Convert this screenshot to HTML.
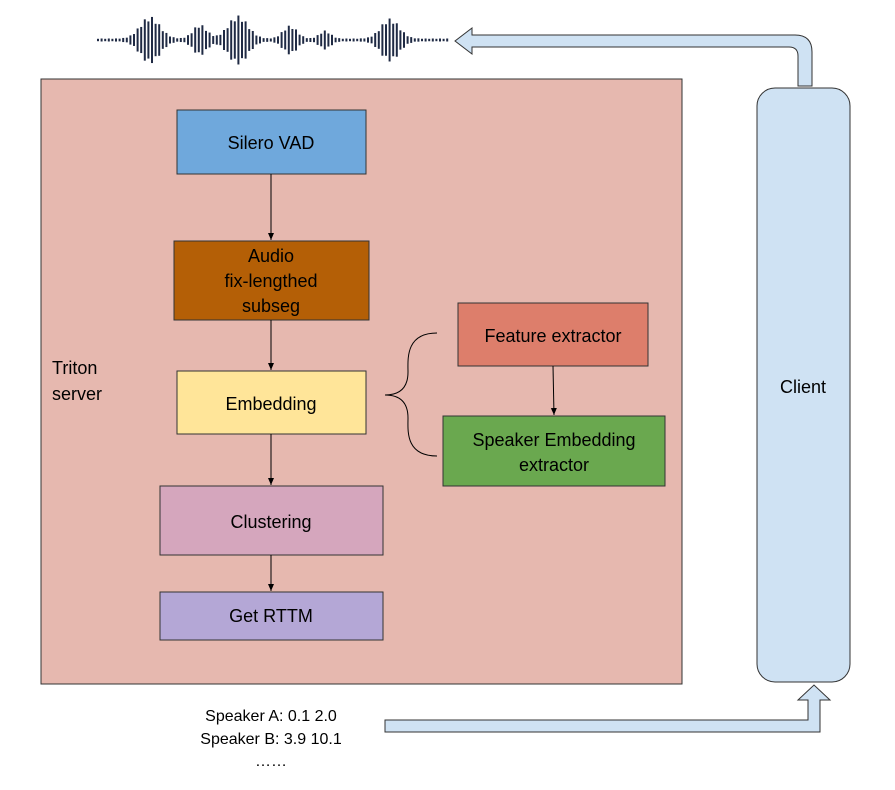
<!DOCTYPE html>
<html><head><meta charset="utf-8"><style>
body{margin:0;background:#fff;}
svg text{font-family:"Liberation Sans",Arial,sans-serif;}
</style></head><body>
<svg width="895" height="785" viewBox="0 0 895 785" xmlns="http://www.w3.org/2000/svg">
<defs><marker id="ah" markerWidth="8" markerHeight="8" refX="7" refY="4" orient="auto" markerUnits="userSpaceOnUse"><path d="M0,1 L7,4 L0,7 z" fill="#000"/></marker></defs>
<g id="wave" stroke="#1f2a44" stroke-width="2"></g>
<rect x="41" y="79" width="641" height="605" fill="#e6b8af" stroke="#333" stroke-width="1"/>
<text x="52" y="374" font-size="18">Triton</text>
<text x="52" y="400" font-size="18">server</text>
<rect x="177" y="110" width="189" height="64" fill="#6fa8dc" stroke="#333"/>
<text x="271" y="149" font-size="18" text-anchor="middle">Silero VAD</text>
<rect x="174" y="241" width="195" height="79" fill="#b45f06" stroke="#333"/>
<text x="271" y="262" font-size="18" text-anchor="middle">Audio</text>
<text x="271" y="287" font-size="18" text-anchor="middle">fix-lengthed</text>
<text x="271" y="312" font-size="18" text-anchor="middle">subseg</text>
<rect x="177" y="371" width="189" height="63" fill="#ffe599" stroke="#333"/>
<text x="271" y="410" font-size="18" text-anchor="middle">Embedding</text>
<rect x="160" y="486" width="223" height="69" fill="#d5a6bd" stroke="#333"/>
<text x="271" y="528" font-size="18" text-anchor="middle">Clustering</text>
<rect x="160" y="592" width="223" height="48" fill="#b4a7d6" stroke="#333"/>
<text x="271" y="622" font-size="18" text-anchor="middle">Get RTTM</text>
<rect x="458" y="303" width="190" height="63" fill="#dd7e6b" stroke="#333"/>
<text x="553" y="342" font-size="18" text-anchor="middle">Feature extractor</text>
<rect x="443" y="416" width="222" height="70" fill="#6aa84f" stroke="#333"/>
<text x="554" y="446" font-size="18" text-anchor="middle">Speaker Embedding</text>
<text x="554" y="471" font-size="18" text-anchor="middle">extractor</text>
<g stroke="#000" stroke-width="1" fill="none">
<line x1="271" y1="174" x2="271" y2="240" marker-end="url(#ah)"/>
<line x1="271" y1="320" x2="271" y2="370" marker-end="url(#ah)"/>
<line x1="271" y1="434" x2="271" y2="485" marker-end="url(#ah)"/>
<line x1="271" y1="555" x2="271" y2="591" marker-end="url(#ah)"/>
<line x1="553" y1="366" x2="554" y2="415" marker-end="url(#ah)"/>
<path d="M437,333 C405,333 408,360 408,372 C408,388 400,395 385,395 C400,395 408,402 408,418 C408,430 405,456 437,456"/>
</g>
<rect x="757" y="88" width="93" height="594" rx="18" fill="#cfe2f3" stroke="#333"/>
<text x="803" y="393" font-size="18" text-anchor="middle">Client</text>
<path d="M798,86 L798,56 Q798,47 789,47 L472,47 L472,54 L455,41 L472,28 L472,35 L795,35 Q812,35 812,52 L812,86 Z" fill="#cfe2f3" stroke="#333"/>
<path d="M385,720 L808,720 L808,700 L798,700 L814,685 L830,700 L820,700 L820,732 L385,732 Z" fill="#cfe2f3" stroke="#333"/>
<text x="271" y="721" font-size="16" text-anchor="middle">Speaker A: 0.1 2.0</text>
<text x="271" y="744" font-size="16" text-anchor="middle">Speaker B: 3.9 10.1</text>
<text x="271" y="766" font-size="16" text-anchor="middle">……</text>
</svg>
<script>
var g=document.getElementById('wave'),s='';
var peaks=[[150,22,14],[200,14,10],[238,23,14],[290,13,10],[325,8,8],[390,20,13]];
for(var x=98;x<=448;x+=3.6){var h=1.5;peaks.forEach(function(p){h+=p[1]*Math.exp(-Math.pow((x-p[0])/p[2],2));});
var jit=(Math.round(x/3.6)%2)?0.8:1;h*=jit;s+='<line x1="'+x+'" x2="'+x+'" y1="'+(40-h)+'" y2="'+(40+h)+'"/>';}
g.innerHTML=s;
</script>
</body></html>
